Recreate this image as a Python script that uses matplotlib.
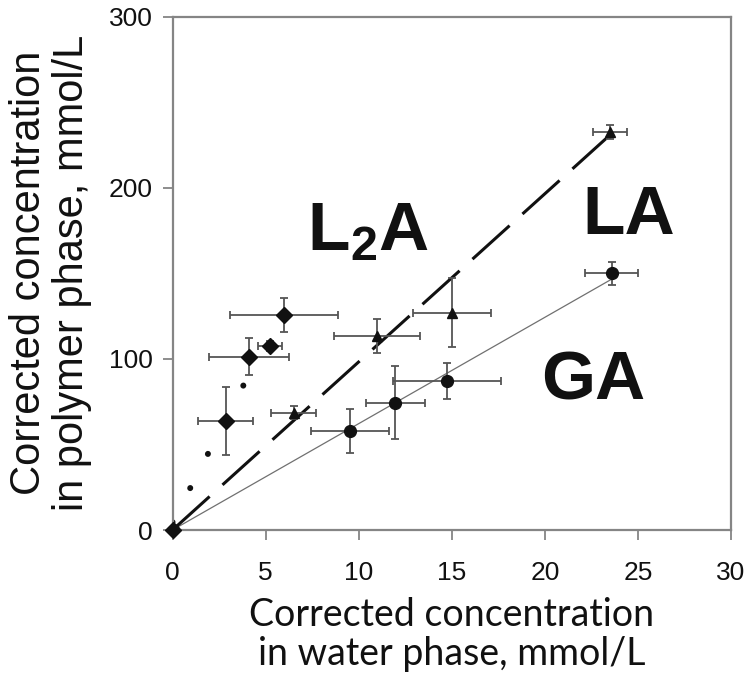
import matplotlib
matplotlib.use('Agg')
import matplotlib.pyplot as plt

# L2A series (diamonds)
l2a_x = [0, 2.85, 4.09, 5.25, 5.98]
l2a_y = [0, 63.6, 101.3, 107.6, 125.5]
l2a_xerr = [0, 1.5, 2.15, 0.65, 2.9]
l2a_yerr = [0, 20, 10.6, 3, 10]

# LA series (triangles)
la_x = [0, 6.5, 11.0, 15.03, 23.5]
la_y = [0, 68.6, 113.4, 127, 232.7]
la_xerr = [0, 1.2, 2.3, 2.1, 0.9]
la_yerr = [0, 4, 10, 20, 4]

# GA series (circles)
ga_x = [0, 9.55, 11.97, 14.76, 23.6]
ga_y = [0, 57.8, 74.4, 87, 149.9]
ga_xerr = [0, 2.1, 1.6, 2.9, 1.43]
ga_yerr = [0, 12.6, 21.4, 10.3, 6.5]

# trend lines, end points
l2a_fit_x = [0, 3.9]
l2a_fit_y = [4.5, 86.4]
la_fit_x = [0, 23.45]
la_fit_y = [0, 230.3]
ga_fit_x = [0, 23.55]
ga_fit_y = [0, 146.3]

x_ticks = [0, 5, 10, 15, 20, 25, 30]
y_ticks = [0, 100, 200, 300]

plt.rcParams['font.family'] = ['Liberation Sans', 'DejaVu Sans']
plt.rcParams['mathtext.fontset'] = 'custom'
plt.rcParams['mathtext.bf'] = 'Liberation Sans:bold'
plt.rcParams['mathtext.rm'] = 'Liberation Sans'
plt.rcParams['lines.scale_dashes'] = False

fig = plt.figure(figsize=(7.5, 6.9), dpi=100)
ax = fig.add_axes([172.5 / 750, 1 - 530 / 690, (731 - 172.5) / 750, (530 - 16.5) / 690])

axis_grey = '#858585'
bar_grey = '#555555'

ax.plot(ga_fit_x, ga_fit_y, color='#707070', lw=0.9, zorder=2)
ax.plot(la_fit_x, la_fit_y, color='#111111', lw=2.2, ls=(0, (36, 12.5)), zorder=2)
ax.plot(l2a_fit_x, l2a_fit_y, color='#111111', lw=4.3, ls=(0, (0.1, 27.6)),
        dash_capstyle='round', zorder=2)

err_kw = dict(ecolor=bar_grey, elinewidth=1.3, capsize=2.6, capthick=1.3, ls='none', zorder=3)
ax.errorbar(ga_x, ga_y, xerr=ga_xerr, yerr=ga_yerr, fmt='o', ms=8.5,
            color='#111111', **err_kw)
ax.errorbar(la_x, la_y, xerr=la_xerr, yerr=la_yerr, fmt='^', ms=7.5,
            color='#111111', **err_kw)
eb = ax.errorbar(l2a_x, l2a_y, xerr=l2a_xerr, yerr=l2a_yerr, fmt='D', ms=7.8,
                 color='#111111', **err_kw)
eb[0].set_clip_on(False)
eb[0].set_zorder(5)

ax.text(7.2, 163.6, r'$\mathbf{L_{2}A}$', fontsize=50, color='#111111',
        ha='left', va='baseline')
ax.text(22.0, 173, 'LA', fontsize=50, fontweight='bold', color='#111111',
        ha='left', va='baseline')
ax.text(19.8, 76, 'GA', fontsize=50, fontweight='bold', color='#111111',
        ha='left', va='baseline')

ax.set_xlim(0, 30)
ax.set_ylim(0, 300)
ax.set_xticks(x_ticks)
ax.set_yticks(y_ticks)
ax.tick_params(axis='x', direction='out', length=7, width=1.3, color=axis_grey,
               labelsize=19, pad=15, labelcolor='#111111')
ax.tick_params(axis='y', direction='out', length=7, width=1.3, color=axis_grey,
               labelsize=19, pad=7, labelcolor='#111111')
for s in ax.spines.values():
    s.set_color(axis_grey)
    s.set_linewidth(1.6)

ax.set_ylabel('Corrected concentration\nin polymer phase, mmol/L', fontsize=30,
              color='#111111', labelpad=12, linespacing=1.1)
ax.set_xlabel('Corrected concentration\nin water phase, mmol/L', fontsize=27,
              family=['Lato', 'DejaVu Sans'], color='#111111', labelpad=9,
              linespacing=1.1)

fig.savefig('out.png', dpi=100)
